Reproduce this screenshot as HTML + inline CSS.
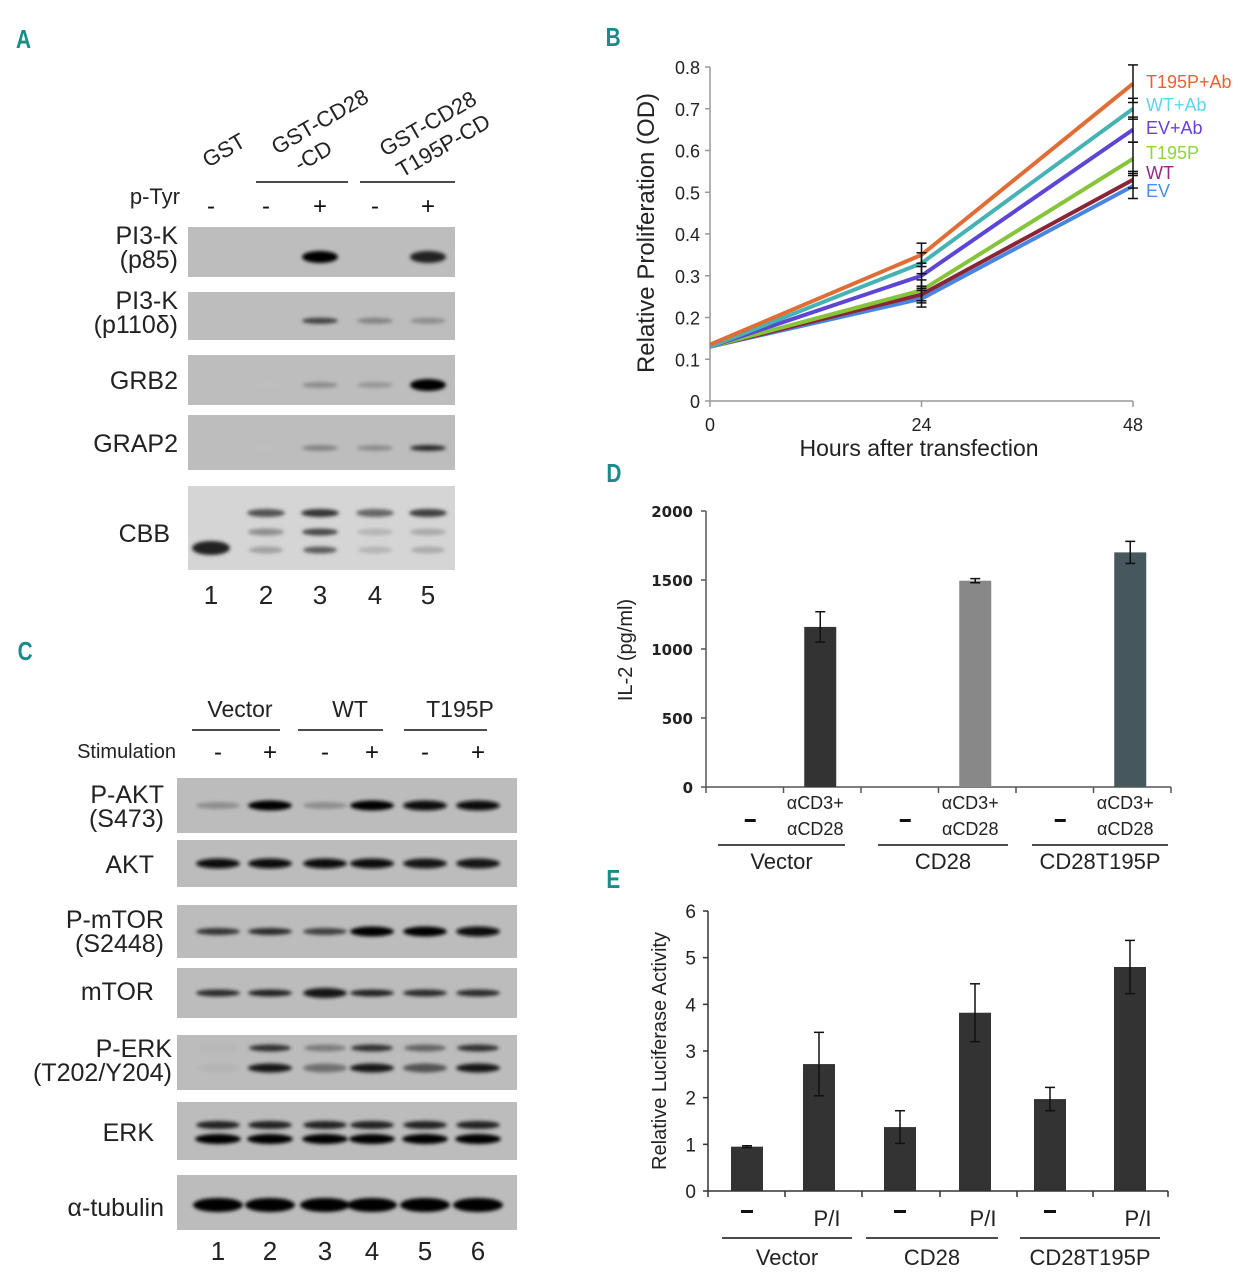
<!DOCTYPE html>
<html><head><meta charset="utf-8"><style>
html,body{margin:0;padding:0;background:#fff;}
svg{display:block;font-family:"Liberation Sans",sans-serif;}
</style></head><body>
<svg id="fig" width="1257" height="1280" viewBox="0 0 1257 1280" xmlns="http://www.w3.org/2000/svg">
<defs>
<filter id="blur" x="-20%" y="-100%" width="140%" height="300%"><feGaussianBlur stdDeviation="1.8"/></filter>
</defs>
<g font-family="Liberation Sans, sans-serif" font-weight="bold" fill="#1a8a8a" font-size="26">
<text x="16" y="48" transform="scale(0.8,1) translate(4,0)">A</text>
<text x="757" y="46" transform="scale(0.8,1)">B</text>
<text x="22" y="660" transform="scale(0.8,1)">C</text>
<text x="758" y="482" transform="scale(0.8,1)">D</text>
<text x="758" y="888" transform="scale(0.8,1)">E</text>
</g>
<g id="panelA"></g>
<g id="panelC"></g>
<g id="panelB"></g>
<g id="panelD"></g>
<g id="panelE"></g>
</svg>
<script>
// ---- Panel B data ----
const bHours = [0, 24, 48];
const bSeries = ["T195P+Ab","WT+Ab","EV+Ab","T195P","WT","EV"];
const bT195PAb = [0.135, 0.35, 0.76];
const bWTAb = [0.13, 0.33, 0.70];
const bEVAb = [0.13, 0.30, 0.65];
const bT195P = [0.13, 0.265, 0.58];
const bWT = [0.13, 0.255, 0.53];
const bEV = [0.13, 0.245, 0.515];
const bErr24 = [0.028, 0.025, 0.03, 0.025, 0.02, 0.02];
const bErr48 = [0.045, 0.025, 0.03, 0.04, 0.02, 0.03];
const bYTicks = [0,0.1,0.2,0.3,0.4,0.5,0.6,0.7,0.8];
const bYTickLabels = ["0","0.1","0.2","0.3","0.4","0.5","0.6","0.7","0.8"];
// ---- Panel D data ----
const dGroups = ["Vector","CD28","CD28T195P"];
const dStim = [1160, 1495, 1700];
const dErr = [110, 15, 80];
const dYTicks = [0,500,1000,1500,2000];
// ---- Panel E data ----
const eGroups = ["Vector","CD28","CD28T195P"];
const eConds = ["-","P/I","-","P/I","-","P/I"];
const eValues = [0.95, 2.72, 1.37, 3.82, 1.97, 4.8];
const eErr = [0.02, 0.68, 0.35, 0.62, 0.25, 0.57];
const eYTicks = [0,1,2,3,4,5,6];
// ---- Blot intensities ----
const aRows = ["p85","p110","GRB2","GRAP2"];
const aP85 = [0,0,1,0,0.85];
const aP110 = [0,0,0.7,0.35,0.3];
const aGRB2 = [0,0.05,0.3,0.25,1];
const aGRAP2 = [0,0.05,0.35,0.3,0.8];
const cPAKT = [0.3,1,0.3,1,0.95,0.95];
const cAKT = [0.95,0.95,0.95,0.95,0.9,0.9];
const cPmTOR = [0.75,0.8,0.7,1,1,0.95];
const cmTOR = [0.8,0.85,0.9,0.85,0.8,0.8];

const NS="http://www.w3.org/2000/svg";
function el(tag, attrs, parent, txt){const e=document.createElementNS(NS,tag);for(const k in attrs)e.setAttribute(k,attrs[k]);if(txt!==undefined)e.textContent=txt;parent.appendChild(e);return e;}

// ---------- Panel B ----------
(function(){
const g=document.getElementById('panelB');
const x0=710,x1=1133,y0=401,yPer=417.5;
const xs=h=>x0+(x1-x0)*h/48, ys=v=>y0-v*yPer;
el('line',{x1:x0,y1:ys(0.8),x2:x0,y2:y0,stroke:'#999','stroke-width':1.5},g);
el('line',{x1:x0,y1:y0,x2:x1,y2:y0,stroke:'#999','stroke-width':1.5},g);
bYTicks.forEach((t,i)=>{
 const tk=el('line',{x1:x0-5,y1:ys(t),x2:x0,y2:ys(t),stroke:'#999','stroke-width':1.5},g);
 
 
 const lb=el('text',{x:x0-10,y:ys(t)+7,'text-anchor':'end','font-size':18,fill:'#222'},g,bYTickLabels[i]);
 
 
});
bHours.forEach(h=>{
 el('line',{x1:xs(h),y1:y0,x2:xs(h),y2:y0+6,stroke:'#999','stroke-width':1.5},g);
 const lb=el('text',{x:xs(h),y:y0+30,'text-anchor':'middle','font-size':18,fill:'#222'},g,String(h));
 
 
});
const xt=el('text',{x:919,y:456,'text-anchor':'middle','font-size':23,fill:'#222'},g,'Hours after transfection');


const yt=el('text',{x:0,y:0,'text-anchor':'middle','font-size':24,fill:'#222',transform:'translate(654,233) rotate(-90)'},g,'Relative Proliferation  (OD)');


const data=[bT195PAb,bWTAb,bEVAb,bT195P,bWT,bEV];
const colors=['#e06d35','#45b3b3','#5d45d6','#86c43a','#8a2538','#4a86df'];
const lblColors=['#e8642c','#5fd4ea','#6b3ee0','#8ed43a','#952a8a','#4a90e8'];
const lblY=[88,111,134,159,179,197];
for(let s=data.length-1;s>=0;s--){
 const pts=data[s].map((v,i)=>xs(bHours[i])+','+ys(v)).join(' ');
 const ln=el('polyline',{points:pts,fill:'none',stroke:colors[s],'stroke-width':4,'stroke-linejoin':'round'},g);
 
 
}
data.forEach((d,s)=>{
 [[1,bErr24[s]],[2,bErr48[s]]].forEach(([i,e])=>{
  const x=xs(bHours[i]);
  el('line',{x1:x,y1:ys(d[i]-e),x2:x,y2:ys(d[i]+e),stroke:'#111','stroke-width':1.5},g);
  el('line',{x1:x-5,y1:ys(d[i]+e),x2:x+5,y2:ys(d[i]+e),stroke:'#111','stroke-width':1.5},g);
  el('line',{x1:x-5,y1:ys(d[i]-e),x2:x+5,y2:ys(d[i]-e),stroke:'#111','stroke-width':1.5},g);
 });
 const lb=el('text',{x:1146,y:lblY[s],'font-size':18,fill:lblColors[s]},g,bSeries[s]);
 
 
});
})();

// ---------- Panel D ----------
(function(){
const g=document.getElementById('panelD');
const x0=706,x1=1171,y0=787,yPer=(787-511)/2000;
const ys=v=>y0-v*yPer;
el('line',{x1:x0,y1:511,x2:x0,y2:y0,stroke:'#555','stroke-width':1.5},g);
el('line',{x1:x0,y1:y0,x2:x1,y2:y0,stroke:'#555','stroke-width':1.5},g);
dYTicks.forEach(t=>{
 el('line',{x1:x0-5,y1:ys(t),x2:x0,y2:ys(t),stroke:'#555','stroke-width':1.5},g);
 const lb=el('text',{x:x0-13,y:ys(t)+6,'text-anchor':'end','font-size':15,'font-weight':'bold',fill:'#222','font-family':'DejaVu Sans, sans-serif'},g,String(t));
 
 
});
const step=(x1-x0)/6;
for(let i=0;i<=6;i++) el('line',{x1:x0+i*step,y1:y0,x2:x0+i*step,y2:y0+6,stroke:'#555','stroke-width':1.5},g);
const yt=el('text',{x:0,y:0,'text-anchor':'middle','font-size':20,fill:'#222',transform:'translate(632,650) rotate(-90)'},g,'IL-2 (pg/ml)');


const cols=['#333333','#888888','#46575e'];
const gl=[[718,845],[878,1008],[1032,1168]];
dGroups.forEach((name,i)=>{
 const cx=x0+step*(2*i+1.5)-2;
 const b=el('rect',{x:cx-16,y:ys(dStim[i]),width:32,height:ys(0)-ys(dStim[i]),fill:cols[i]},g);
 
 
 const e=dErr[i];
 el('line',{x1:cx,y1:ys(dStim[i]-e),x2:cx,y2:ys(dStim[i]+e),stroke:'#111','stroke-width':1.5},g);
 el('line',{x1:cx-5,y1:ys(dStim[i]+e),x2:cx+5,y2:ys(dStim[i]+e),stroke:'#111','stroke-width':1.5},g);
 el('line',{x1:cx-5,y1:ys(dStim[i]-e),x2:cx+5,y2:ys(dStim[i]-e),stroke:'#111','stroke-width':1.5},g);
 const mx=x0+step*(2*i+0.5)+5;
 el('rect',{x:mx-5,y:819,width:11,height:3,fill:'#111'},g);
 el('text',{x:cx-5,y:809,'text-anchor':'middle','font-size':18,fill:'#222'},g,'αCD3+');
 el('text',{x:cx-5,y:835,'text-anchor':'middle','font-size':18,fill:'#222'},g,'αCD28');
 el('line',{x1:gl[i][0],y1:845,x2:gl[i][1],y2:845,stroke:'#111','stroke-width':1.5},g);
 const gt=el('text',{x:(gl[i][0]+gl[i][1])/2,y:869,'text-anchor':'middle','font-size':22,fill:'#222'},g,name);
 
 
});
})();

// ---------- Panel E ----------
(function(){
const g=document.getElementById('panelE');
const x0=708,x1=1168,y0=1191,yPer=(1191-911)/6;
const ys=v=>y0-v*yPer;
el('line',{x1:x0,y1:911,x2:x0,y2:y0,stroke:'#333','stroke-width':1.5},g);
el('line',{x1:x0,y1:y0,x2:x1,y2:y0,stroke:'#333','stroke-width':1.5},g);
eYTicks.forEach(t=>{
 el('line',{x1:x0-5,y1:ys(t),x2:x0,y2:ys(t),stroke:'#333','stroke-width':1.5},g);
 const lb=el('text',{x:x0-12,y:ys(t)+7,'text-anchor':'end','font-size':19,fill:'#222'},g,String(t));
 
 
});
const cx=[747,819,900,975,1050,1130];
[708,785,862,940,1017,1093,1168].forEach(x=>el('line',{x1:x,y1:y0,x2:x,y2:y0+6,stroke:'#333','stroke-width':1.5},g));
const yt=el('text',{x:0,y:0,'text-anchor':'middle','font-size':20,fill:'#222',transform:'translate(666,1051) rotate(-90)'},g,'Relative Luciferase Activity');


eValues.forEach((v,i)=>{
 const b=el('rect',{x:cx[i]-16,y:ys(v),width:32,height:ys(0)-ys(v),fill:'#333'},g);
 
 
 const e=eErr[i];
 el('line',{x1:cx[i],y1:ys(v-e),x2:cx[i],y2:ys(v+e),stroke:'#111','stroke-width':1.5},g);
 el('line',{x1:cx[i]-5,y1:ys(v+e),x2:cx[i]+5,y2:ys(v+e),stroke:'#111','stroke-width':1.5},g);
 el('line',{x1:cx[i]-5,y1:ys(v-e),x2:cx[i]+5,y2:ys(v-e),stroke:'#111','stroke-width':1.5},g);
 if(eConds[i]==='-') el('rect',{x:cx[i]-6,y:1210,width:12,height:3,fill:'#111'},g);
 else el('text',{x:cx[i]+8,y:1226,'text-anchor':'middle','font-size':22,fill:'#222'},g,eConds[i]);
});
const gl=[[722,852],[866,998],[1020,1160]];
eGroups.forEach((name,i)=>{
 el('line',{x1:gl[i][0],y1:1238,x2:gl[i][1],y2:1238,stroke:'#111','stroke-width':1.5},g);
 const gt=el('text',{x:(gl[i][0]+gl[i][1])/2,y:1265,'text-anchor':'middle','font-size':22,fill:'#222'},g,name);
 
 
});
})();

// ---------- Blots ----------
function band(g,cx,cy,w,h,intensity){
 if(intensity<=0.02) return;
 const c=Math.round(200-intensity*195);
 el('ellipse',{cx:cx,cy:cy,rx:w/2,ry:h/2,fill:`rgb(${c},${c},${c})`,filter:'url(#blur)'},g);
}
function label(g,x,y,lines,size){
 lines.forEach((t,i)=>el('text',{x:x,y:y+i*size*0.95,'text-anchor':'end','font-size':size,fill:'#222'},g,t));
}
(function(){
const g=document.getElementById('panelA');
const lx=[211,266,320,375,428];
el('text',{x:0,y:0,'font-size':22,fill:'#222',transform:'translate(208,168) rotate(-30)'},g,'GST');
el('text',{x:0,y:0,'font-size':22,fill:'#222',transform:'translate(277,155) rotate(-30)'},g,'GST-CD28');
el('text',{x:0,y:0,'font-size':22,fill:'#222',transform:'translate(300,172) rotate(-30)'},g,'-CD');
el('text',{x:0,y:0,'font-size':22,fill:'#222',transform:'translate(385,157) rotate(-30)'},g,'GST-CD28');
el('text',{x:0,y:0,'font-size':22,fill:'#222',transform:'translate(402,178) rotate(-30)'},g,'T195P-CD');
el('line',{x1:256,y1:182,x2:348,y2:182,stroke:'#111','stroke-width':1.5},g);
el('line',{x1:360,y1:182,x2:455,y2:182,stroke:'#111','stroke-width':1.5},g);
el('text',{x:180,y:204,'text-anchor':'end','font-size':22,fill:'#222'},g,'p-Tyr');
['-','-','+','-','+'].forEach((s,i)=>el('text',{x:lx[i],y:214,'text-anchor':'middle','font-size':24,fill:'#111'},g,s));
const rows=[[227,277,aP85,['PI3-K','(p85)'],244],[292,340,aP110,['PI3-K','(p110δ)'],309],[355,405,aGRB2,['GRB2'],389],[415,470,aGRAP2,['GRAP2'],452]];
rows.forEach(([t,b,vals,lab,ly])=>{
 const r=el('rect',{x:188,y:t,width:267,height:b-t,fill:'#bdbdbd'},g);
 
 
 vals.forEach((v,i)=>band(g,lx[i],(t+b)/2+ (b-t)*0.1,36,v>0.8?12:6,v));
 label(g,178,ly,lab,25);
});
el('rect',{x:188,y:486,width:267,height:84,fill:'#d5d5d5'},g);
band(g,lx[0],548,38,14,0.85);
[[1,0.6,0.3,0.2],[2,0.75,0.65,0.55],[3,0.5,0.1,0.1],[4,0.7,0.15,0.15]].forEach(([i,a,b2,c])=>{band(g,lx[i],513,38,8,a);band(g,lx[i],532,36,7,b2);band(g,lx[i],550,34,7,c);});
label(g,170,542,['CBB'],25);
lx.forEach((x,i)=>el('text',{x:x,y:604,'text-anchor':'middle','font-size':26,fill:'#222'},g,String(i+1)));
})();
(function(){
const g=document.getElementById('panelC');
const lx=[218,270,325,372,425,478];
[['Vector',240,192,280],['WT',350,298,383],['T195P',460,404,487]].forEach(([t,x,a,b])=>{
 el('text',{x:x,y:717,'text-anchor':'middle','font-size':23,fill:'#222'},g,t);
 el('line',{x1:a,y1:730,x2:b,y2:730,stroke:'#111','stroke-width':1.5},g);
});
el('text',{x:176,y:758,'text-anchor':'end','font-size':20,fill:'#222'},g,'Stimulation');
['-','+','-','+','-','+'].forEach((s,i)=>el('text',{x:lx[i],y:760,'text-anchor':'middle','font-size':24,fill:'#111'},g,s));
const erkP=[0.1,0.9,0.45,0.9,0.6,0.9];
const rows=[[778,833,cPAKT,['P-AKT','(S473)'],803],[840,887,cAKT,['AKT'],873],[905,958,cPmTOR,['P-mTOR','(S2448)'],928],[968,1018,cmTOR,['mTOR'],1000],[1035,1090,null,['P-ERK','(T202/Y204)'],1057],[1102,1160,null,['ERK'],1141],[1175,1230,null,['α-tubulin'],1216]];
rows.forEach(([t,b,vals,lab,ly])=>{
 const r=el('rect',{x:177,y:t,width:340,height:b-t,fill:'#bcbcbc'},g);
 
 
 if(vals) vals.forEach((v,i)=>band(g,lx[i],(t+b)/2,44,v>0.85?10:7,v));
 label(g,lab.length>1?(lab[1].length>8?172:164):(lab[0]==='α-tubulin'?164:154),ly,lab,25);
});
lx.forEach((x,i)=>{
 band(g,x,1048,42,7,erkP[i]*0.85);band(g,x,1068,44,9,erkP[i]);
 band(g,x,1125,44,8,0.85);band(g,x,1139,46,10,1);
 band(g,x,1205,50,14,1);
 el('text',{x:x,y:1260,'text-anchor':'middle','font-size':26,fill:'#222'},g,String(i+1));
});
})();
</script>
</body></html>
